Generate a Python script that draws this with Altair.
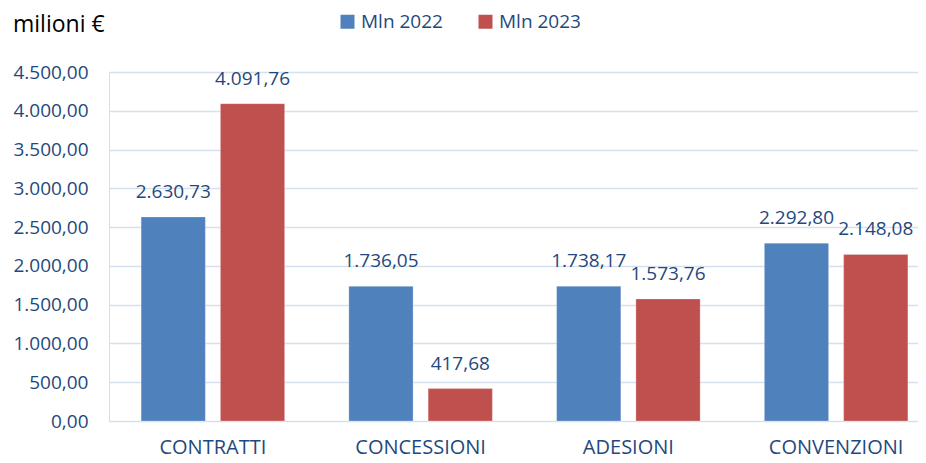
import altair as alt
import pandas as pd

categories = ["CONTRATTI", "CONCESSIONI", "ADESIONI", "CONVENZIONI"]
series = ["Mln 2022", "Mln 2023"]
values_2022 = [2630.73, 1736.05, 1738.17, 2292.80]
values_2023 = [4091.76, 417.68, 1573.76, 2148.08]
y_ticks = [0, 500, 1000, 1500, 2000, 2500, 3000, 3500, 4000, 4500]
colors = ["#4F81BD", "#C0504D"]
unit_title = ["milioni €"]

rows = []
for c, a, b in zip(categories, values_2022, values_2023):
    rows.append({"cat": c, "serie": series[0], "val": a})
    rows.append({"cat": c, "serie": series[1], "val": b})
df = pd.DataFrame(rows)

FONT = "Open Sans"
TXT = "#1F497D"

base = alt.Chart(df).encode(
    x=alt.X(
        "cat:N",
        sort=categories,
        scale=alt.Scale(range=[0, 831], paddingInner=0, paddingOuter=0),
        axis=alt.Axis(
            title=None, labelAngle=0, ticks=False, domain=False, grid=False,
            labelPadding=16, labelFontSize=20, labelColor=TXT, labelFont=FONT,
        ),
    ),
    xOffset=alt.XOffset(
        "serie:N", sort=series,
        scale=alt.Scale(paddingInner=0.19, paddingOuter=0.405),
    ),
    y=alt.Y(
        "val:Q",
        scale=alt.Scale(domain=[0, 4500], nice=False),
        axis=alt.Axis(
            values=y_ticks, format=",.2f", title=None, ticks=False, domain=False,
            gridColor="#D6E1F0", gridWidth=1.6, labelPadding=21,
            labelFontSize=19, labelColor=TXT, labelFont=FONT,
        ),
    ),
)

bars = base.mark_bar(stroke="#FFFFFF", strokeOpacity=0.25, strokeWidth=1).encode(
    color=alt.Color(
        "serie:N",
        sort=series,
        scale=alt.Scale(domain=series, range=colors),
        legend=alt.Legend(
            title=None, orient="none", direction="horizontal",
            legendX=229, legendY=-60, symbolType="square", symbolSize=196,
            symbolStrokeWidth=0, labelFontSize=19, labelColor=TXT, labelFont=FONT,
            labelOffset=4, columnPadding=33, padding=0,
        ),
    )
)

labels = base.mark_text(
    baseline="alphabetic", dy=-19, fontSize=19, color=TXT, font=FONT
).encode(text=alt.Text("val:Q", format=",.2f"))

title = alt.Chart(pd.DataFrame({"t": unit_title})).mark_text(
    align="left", baseline="alphabetic", fontSize=23, color="#000000", font=FONT
).encode(x=alt.value(-96), y=alt.value(-40), text="t:N")

chart = (
    alt.layer(bars, labels, title)
    .properties(
        width=809,
        height=349,
        autosize=alt.AutoSizeParams(type="none"),
        padding={"left": 101, "top": 64, "right": 0, "bottom": 40},
    )
    .configure_view(stroke=None)
    .configure(locale={"number": {"decimal": ",", "thousands": ".", "grouping": [3], "currency": ["", " €"]}})
)

chart.save("out.html", embed_options={"renderer": "svg", "actions": False})
